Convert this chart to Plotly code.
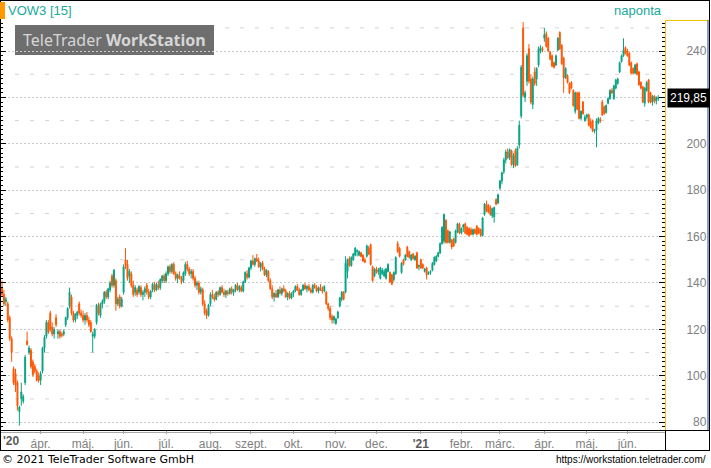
import pandas as pd
import plotly.graph_objects as go

# ---------------- data (open, high, low, close) per month ----------------
mar20 = [(138,141,134,135),(135,137,130,131),(132,134,130,133),(131,132,123,124),(125,126,115,116),
         (116,117,106,110),(103,104,96,97),(101,103,93,96),(97,98,85,87),(84.5,87,78.5,86.5),
         (90,97,87,93),(89,92,88,91),(97,109,96,108),(115,119,113,113.5),(110,113,109,112),
         (111,112,103,104),(106,107,99.5,100.5),(104,105,101,102),(102,103,97.5,98),(100,101.5,97,98)]
apr20 = [(98,102,96,101),(102,112.5,101,112),(112,117.5,110,116.5),(117,124,116,123),(123,124,118,119),
         (127,128,119,120),(121,123,117,118),(118,121,116,120),(125,126.5,121,122),(118,120,116,119),
         (119,120,116,117),(118,119,116.5,117.5),(118,120,117,119),(122,125.5,121,125),(125,129.5,124,129),
         (130,138,129,136),(134,135,126,127),(127,128,123,124),(124,127,123,126.5),(126,128,124.5,127.5),
         (131,132,126,127),(127,128.5,125,126)]
may20 = [(126,128,123,124),(124,127,122,126),(126,127.5,123,124),(124,125.5,121,122),(123,124,118.5,119),
         (117,119,110,118),(117,120.5,116,120),(123,131,122,130.5),(130,131.5,126,127),(126,131.5,125,131),
         (131,133,129,132),(132,136.5,131,136),(136,137,133,134),(134,138,133,137.5),(137,141,136,140),
         (143,144,138,139),(139,146,138,145.5),(141,142,128,131),(131,134,130,133),(134,135,129,130),
         (130,134,129.5,133)]
jun20 = [(136,148,135,147),(150,155,146,147.5),(148,150,141,142),(143,146,140,145),(144,145,138,139),
         (139,141,134,135),(136,139,134.5,138),(137,138,134,135),(136,139,135,138.5),(138,139,134,135),
         (135,137,132.5,136),(136,138.5,134,137.5),(139,140,135,136),(136,137.5,133,134),(134,137,133,136.5),
         (137,140,136,139.5),(139,140.5,136,137),(137,140,136.5,139.5),(139,141,137,138),(138,142,137,141.5),
         (141,143.5,140,143),(143,144,140,141)]
jul20 = [(141,145,140,144),(144,147.5,143,147),(147,148,144,145),(145,148.5,144,148),(148,149,143.5,144),
         (144,145,141,142),(142,144,140,143.5),(143,145,141.5,142),(142,143,139.5,140.5),(141,145,140,144.5),
         (144,149,143,148),(148,149.5,145,146),(146,147,143,144),(144,146,142,145),(145,146,141,142),
         (142,143,138,139),(139,141,137,140),(140,141,135,136),(136,138.5,135,137.5),(137,138,130,131),
         (131,132.5,126,127),(128,129,124.5,126),(126,131,125.5,130.5)]
aug20 = [(131,136,130,135),(135,137,133,134),(134,135.5,132,133),(133,136.5,132.5,136),(136,137,134,135),
         (135,138.5,134.5,138),(138,139,135.5,136),(136,137.5,134,135),(135,137,133.5,136.5),(136,137,134.5,135.5),
         (135.5,138,135,137.5),(137.5,138.5,135,136),(136,137.5,134.5,137),(137,139.5,136,139),(139,140,136.5,137),
         (137,139,136,138.5),(138,139,136,136.5),(136.5,141,136,140.5),(140.5,145,140,144.5),(144,145.5,141.5,142.5),
         (142.5,147,142,146.5)]
sep20 = [(146.5,150,145.5,149.5),(149.5,152,147.5,148),(148,151,147,150.5),(150.5,152.5,149,149.5),
         (149.5,151,146.5,147),(147,149,145,148.5),(148.5,149.5,145.5,146),(146,147,143,143.5),
         (143.5,146,142.5,145.5),(145,145.5,140.5,141),(141,142,137,137.5),(137.5,139,133,134),
         (134,136,132,135.5),(135.5,137,133.5,134),(134,137.5,133.5,137),(137,138.5,135,135.5),
         (135.5,138,134.5,137.5),(137.5,139,136,136.5),(136.5,137.5,133.5,134),(134,136,132.5,135.5),
         (135.5,136.5,133,133.5),(133.5,136,133,135.5)]
oct20 = [(135.5,137,134,136.5),(136.5,139,136,138.5),(138.5,139.5,136.5,137),(137,138,134.5,135),
         (135,137.5,134.5,137),(137,139.5,136.5,139),(139,140,137,137.5),(137.5,139,136,138.5),
         (138.5,139.5,136.5,137),(137,138,135.5,136),(136,139.5,135.5,139),(139,140,137.5,138),
         (138,139,136,136.5),(136.5,138.5,135.5,138),(138,139.5,136.5,137),(137,138.5,135.5,136.5),
         (136.5,139,136,138.5),(136,136.5,130.5,131),(131,131.5,128,129),(129,130,124,125),
         (125.5,126.5,122.5,124),(124,126,122.5,125.5)]
nov20 = [(122.5,125,122,124.5),(125,128,124.5,127.5),(130,134,129.5,133.5),(133,136.5,132,136),
         (136,136.5,132.5,133),(136,151.5,135.5,148.5),(145,150.5,142,150),(150.5,151.5,147,147.5),
         (147.5,151.5,147,151),(150,153,149.5,152.5),(152,155.5,151.5,155),(153.5,154.5,151.5,154),
         (152,154,151.5,153.5),(153,153.5,151,151.5),(152,152.5,149,149.5),(150,151,148.5,149),
         (151.5,156.5,151,156),(155,156,152,152.5),(156.5,157,147.5,148),(147,147.5,140.5,141),
         (143,146.5,142.5,146)]
dec20 = [(146,147,144,144.5),(145,146.5,143.5,145.5),(142,147,141.5,146.5),(144,146.5,143.5,145.5),
         (143,146,142.5,145),(142,146.5,141.5,146),(145,148.5,144.5,148),(144.5,145,140,140.5),
         (143.5,144,139,139.5),(141.5,145,140.5,144.5),(144,151.5,143.5,151),(157,158,153,153.5),
         (155,155.5,151,151.5),(144.5,149,144,148.5),(150,150.5,147.5,148),(150,152.5,149.5,152),
         (155.5,156,151,151.5),(153.5,154,150.5,151),(150,152.5,149.5,152),(152.5,153,150,150.5),
         (150,152,149.5,151.5),(153,153.5,146,146.5),(147,148,145.5,147.5)]
jan21 = [(150,150.5,146,146.5),(148,148.5,146,146.5),(145,146.5,144.5,146),(146.5,147,141.5,143.5),
         (144,145,143.5,144.5),(144.5,145.5,143.5,145),(145.5,149,145,148.5),(148,151.5,147.5,151),
         (149.5,152,149,151.5),(151.5,153.5,151,153),(153,157.5,152.5,157),(157,164.5,156.5,164),
         (158,170,157,169.5),(167,167.5,157,157.5),(162.5,163,157,157.5),(157.5,162.5,157,162),
         (158.5,159,154.5,155.5),(159,159.5,155.5,156),(157.5,163,157,162.5),(162,166,161.5,165.5),
         (165.5,166,161,161.5)]
feb21 = [(161.5,164,161,163.5),(164,165.5,162,165),(165.5,166,161,161.5),(164,164.5,160.5,161),
         (163.5,164,160,160.5),(163,164,160.5,161),(161,163.5,160.5,163),(163,163.5,161,161.5),
         (164.5,165,160.5,161),(163.5,164,161,161.5),(163,163.5,160,160.5),(160.5,168.5,160,168),
         (169.5,174.5,169,174),(174,175.5,170.5,171),(173.5,174,170,170.5),(172.5,173.5,169,169.5),
         (169,172.5,168,172),(168.5,173,166,172.5),(176,176.5,173.5,174),(174.5,178.5,174,178)]
mar21 = [(181,184.5,180,184),(184,188,182.5,187.5),(188,194,187,193),(193,197.5,191.5,196.5),
         (196.5,198,193.5,194),(194,198,193,197.5),(197,197.5,190.5,191),(191,196,189.5,195),
         (197,198,190,190.5),(191,199,190.5,198),(199.5,210,198,208),(212,234,211,233),
         (250,252.5,220,221),(220,223,218,222),(227,239,225,238),(241,243,226,227),
         (228,230,217,218),(217,229,215,228),(231,233,225,226),(228,233,225,232.5),
         (234,242,233,241),(240,242.5,239,241.5),(241,242,239.5,240.5)]
apr21 = [(245.5,250,244,247),(247.5,248.5,241.5,242),(245.5,246,239.5,240),(239.5,240,236,236.5),
         (238,238.5,233,233.5),(235,235.5,232.5,233),(234,238.5,233.5,238),(240.5,246,240,245.5),
         (248,248.5,240.5,241),(242.5,243,234,234.5),(237,237.5,222,228.5),(228.5,233,228,232.5),
         (229.5,230,226,226.5),(226,226.5,221.5,222),(226.5,227,223.5,224),(223,223.5,216,216.5),
         (214,222.5,213,222),(222,222.5,214.5,215),(222,222.5,210.5,211),(211,214.5,210,214),
         (218,218.5,212.5,213),(210,212.5,209.5,211.5)]
may21 = [(211.5,213,210.5,212.5),(212.5,213,207.5,208),(209.5,211,206.5,207),(210,210.5,205,205.5),
         (205.5,206.5,204.5,206),(206,211,198.5,210),(209,211.5,208.5,211),(210.5,211.5,209,210),
         (218,219,212,212.5),(216,216.5,212.5,213),(213.5,217,213,216.5),(217.5,220,217,219.5),
         (219.5,223.5,219,223),(223,224,221.5,222),(219.5,225.5,219,225),(224,228,223.5,227.5),
         (226,228.5,225.5,228),(231,235.5,230.5,235),(235.5,238.5,235,238),(238,245.5,237.5,240.5),
         (241.5,242,238.5,239)]
jun21 = [(240,241,237.5,238),(239,239.5,233.5,234),(235,235.5,230,230.5),(232.5,233,230,230.5),
         (230.5,234.5,230,234),(234.5,235,229.5,230),(231,231.5,225,225.5),(226.5,227,223.5,224),
         (224.5,225,217.5,218),(217.5,224.5,216,224),(223,227,222.5,226.5),(227.5,228,217.5,218),
         (222,222.5,217.5,218),(218,221,216.5,220.5),(220.5,221,217.5,218.5),(218.5,220.5,217,220),
         (219.5,221,218.5,219.85)]

FIRST_DAY = "2020-03-04"
TITLE = "VOW3 [15]"
PERIOD = "naponta"
LAST_PRICE_TEXT = "219,85"
Y_TICKS = [80, 100, 120, 140, 160, 180, 200, 220, 240]
Y_HIDDEN_LABEL = 220          # label covered by the last-price tag in the original
Y_MID_GRID = [90, 110, 130, 150, 170, 190, 210, 230, 250]
MONTH_LABELS = ["ápr.", "máj.", "jún.", "júl.", "aug.", "szept.", "okt.", "nov.", "dec.",
                "'21", "febr.", "márc.", "ápr.", "máj.", "jún."]
YEAR_LABEL_0 = "'20"
FOOTER_LEFT = "© 2021 TeleTrader Software GmbH"
FOOTER_RIGHT = "https://workstation.teletrader.com/"

rows = mar20 + apr20 + may20 + jun20 + jul20 + aug20 + sep20 + oct20 + nov20 + dec20 + \
       jan21 + feb21 + mar21 + apr21 + may21 + jun21
opens = [r[0] for r in rows]
highs = [r[1] for r in rows]
lows = [r[2] for r in rows]
closes = [r[3] for r in rows]
dates = pd.bdate_range(FIRST_DAY, periods=len(rows))
xs = [d.strftime("%Y-%m-%d") for d in dates]

# month starts
tickvals, ticktext = [], []
k = 0
for i in range(1, len(dates)):
    if dates[i].month != dates[i - 1].month and k < len(MONTH_LABELS):
        tickvals.append(xs[i])
        lab = MONTH_LABELS[k]
        if lab.startswith("'"):
            lab = "<span style='color:#5a5a5a'><b>" + lab + "</b></span>"
        ticktext.append(lab)
        k += 1

# ---------------- style / layout ----------------
W, H = 711, 468
L, R, T, B = 0, 46, 20, 38
PW, PH = W - L - R, H - T - B
def fx(px):
    return (px - L) / PW
def fy(py):
    return (T + PH - py) / PH

GREEN = "#06a283"
ORANGE = "#ff5500"
TEAL = "#19a99b"
GRAY = "#808080"

fig = go.Figure()
fig.add_trace(go.Candlestick(
    x=xs, open=opens, high=highs, low=lows, close=closes,
    increasing=dict(line=dict(color=GREEN, width=1), fillcolor=GREEN),
    decreasing=dict(line=dict(color=ORANGE, width=1), fillcolor=ORANGE),
    whiskerwidth=0, showlegend=False, hoverinfo="skip"))

ytext = ["" if v == Y_HIDDEN_LABEL else ("\u2007" * (3 - len(str(v)))) + str(v) for v in Y_TICKS]

fig.update_layout(
    width=W, height=H,
    margin=dict(l=L, r=R, t=T, b=B, pad=0),
    paper_bgcolor="white", plot_bgcolor="white",
    showlegend=False,
    xaxis=dict(type="category", range=[-1.04, len(rows) + 2.5],
               rangeslider=dict(visible=False),
               tickvals=tickvals, ticktext=ticktext,
               tickfont=dict(family="Liberation Sans", size=12, color=GRAY),
               ticks="outside", ticklen=3, tickcolor="#a0a0a0",
               showgrid=False, showline=False, zeroline=False, fixedrange=True),
    yaxis=dict(side="right", range=[76.6, 253.4],
               tickvals=Y_TICKS, ticktext=ytext,
               tickfont=dict(family="Liberation Sans", size=12, color=GRAY),
               ticks="inside", ticklen=6, tickcolor="black", tickwidth=1,
               minor=dict(dtick=2, ticks="inside", ticklen=3, tickcolor="black", showgrid=False),
               showgrid=True, gridcolor="#cccccc", griddash="2px,2px", gridwidth=1,
               showline=True, linecolor="#f2c200", linewidth=1, mirror="ticks",
               zeroline=False, ticklabelstandoff=18, fixedrange=True),
)

shapes = []
for v in Y_MID_GRID:
    shapes.append(dict(type="line", xref="paper", yref="y", x0=0, x1=1, y0=v, y1=v,
                       line=dict(color="#d4d4d4", width=1, dash="4px,11px"), layer="below"))
# watermark box
shapes.append(dict(type="rect", xref="paper", yref="paper", x0=fx(15), x1=fx(214), y0=fy(55), y1=fy(25),
                   fillcolor="#6e6e6e", line=dict(width=0), layer="below"))
def hline(py, x0, x1, color, width=1):
    shapes.append(dict(type="line", xref="paper", yref="paper", x0=fx(x0), x1=fx(x1), y0=fy(py), y1=fy(py),
                       line=dict(color=color, width=width)))
def vline(px, y0, y1, color, width=1):
    shapes.append(dict(type="line", xref="paper", yref="paper", x0=fx(px), x1=fx(px), y0=fy(y0), y1=fy(y1),
                       line=dict(color=color, width=width)))
hline(0.5, 0, 710, "black")
hline(430.5, 0, 710, "black")
hline(432.5, 0, 665, "#a8a8a8")
hline(450.5, 0, 710, "black")
vline(0.5, 0, 451, "black")
vline(709.5, 0, 451, "black")
vline(665.5, 430, 451, "black")
hline(20.5, 666, 708, "#f2c200")
vline(708, 20, 430, "#1c3c9c")
shapes.append(dict(type="rect", xref="paper", yref="paper", x0=fx(0), x1=fx(5), y0=fy(19), y1=fy(2),
                   fillcolor="#ff9900", line=dict(width=0)))
fig.update_layout(shapes=shapes)

ann = []
ann.append(dict(text=TITLE, xref="paper", yref="paper", x=fx(6), y=fy(11), xanchor="left", yanchor="middle",
                showarrow=False, font=dict(family="Liberation Sans", size=13, color=TEAL)))
ann.append(dict(text=PERIOD, xref="paper", yref="paper", x=fx(664), y=fy(11), xanchor="right", yanchor="middle",
                showarrow=False, font=dict(family="Liberation Sans", size=13, color=TEAL)))
ann.append(dict(text="TeleTrader <b>WorkStation</b>", xref="paper", yref="paper", x=fx(114.5), y=fy(40),
                xanchor="center", yanchor="middle", showarrow=False,
                font=dict(family="Noto Sans", size=16, color="#d6d6d6")))
ann.append(dict(text=LAST_PRICE_TEXT, xref="paper", yref="y", x=fx(667), y=closes[-1], xanchor="left",
                yanchor="middle", showarrow=False, bgcolor="black", borderpad=2,
                font=dict(family="Liberation Sans", size=12, color="white")))
ann.append(dict(text="<b>" + YEAR_LABEL_0 + "</b>", xref="paper", yref="paper", x=fx(1), y=fy(441),
                xanchor="left", yanchor="middle", showarrow=False,
                font=dict(family="Liberation Sans", size=12, color="#5a5a5a")))
ann.append(dict(text=FOOTER_LEFT, xref="paper", yref="paper", x=fx(0), y=fy(459), xanchor="left",
                yanchor="middle", showarrow=False, font=dict(family="DejaVu Sans", size=11, color="black")))
ann.append(dict(text=FOOTER_RIGHT, xref="paper", yref="paper", x=fx(708), y=fy(459), xanchor="right",
                yanchor="middle", showarrow=False, font=dict(family="Liberation Sans", size=10, color="black")))
fig.update_layout(annotations=ann)

fig.write_html("out.html", config={"displayModeBar": False},
               post_script="document.body.style.margin='0';document.body.style.padding='0';")
